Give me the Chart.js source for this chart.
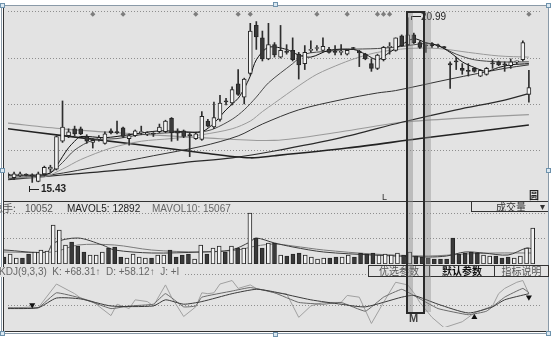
<!DOCTYPE html>
<html lang="zh-CN"><head><meta charset="utf-8"><title>K线图</title>
<script src="https://cdn.jsdelivr.net/npm/chart.js@4.4.1/dist/chart.umd.min.js"></script>
<style>
html,body{margin:0;padding:0;width:552px;height:337px;overflow:hidden;background:#fff;font-family:"Liberation Sans",Arial,sans-serif;}
.a{position:absolute;}
.t{position:absolute;white-space:nowrap;line-height:10px;font-size:10px;color:#333;}
.cjk{font-family:"Noto Sans CJK SC",sans-serif;}
canvas{position:absolute;}
.btn{position:absolute;top:265px;height:12px;box-sizing:border-box;border:1px solid #333;background:#e3e3e3;font-family:"Noto Sans CJK SC",sans-serif;font-size:10px;line-height:10px;text-align:center;color:#555;}
.h{position:absolute;width:5px;height:5px;box-sizing:border-box;border:1px solid #6f93ad;background:#dbe8f1;}
</style></head><body>
<div class="a" style="left:3px;top:6px;width:545px;height:325px;background:#e3e3e3;"></div>
<canvas id="price" width="541" height="193" style="left:4px;top:7px"></canvas>
<canvas id="vol" width="541" height="52" style="left:4px;top:212px"></canvas>
<canvas id="kdj" width="541" height="65" style="left:4px;top:266px"></canvas>

<!-- frame lines -->
<div class="a" style="left:3px;top:6px;width:1px;height:325px;background:#333;"></div>
<div class="a" style="left:1px;top:6px;width:1px;height:326px;background:#8a9aa8;"></div>
<div class="a" style="left:548px;top:6px;width:1px;height:326px;background:#8a9aa8;"></div>
<div class="a" style="left:1px;top:5px;width:548px;height:1px;background:#8a9aa8;"></div>
<div class="a" style="left:3px;top:201px;width:545px;height:1px;background:#333;"></div>
<div class="a" style="left:3px;top:331px;width:545px;height:1px;background:#333;"></div>
<div class="a" style="left:1px;top:333px;width:548px;height:1px;background:#8a9aa8;"></div>

<!-- price panel texts -->
<div class="t" style="left:382px;top:192px;font-size:9px;">L</div>
<div class="t cjk" style="left:529px;top:190px;font-weight:bold;color:#222;">圆</div>
<div class="a" style="left:411px;top:16px;width:10px;height:1px;background:#222;"></div>
<div class="a" style="left:411px;top:16px;width:1px;height:4px;background:#222;"></div>
<div class="t" style="left:421px;top:12px;color:#222;">20.99</div>
<div class="a" style="left:29px;top:186px;width:1px;height:6px;background:#222;"></div>
<div class="a" style="left:29px;top:189px;width:10px;height:1px;background:#222;"></div>
<div class="t" style="left:41px;top:184px;color:#222;font-weight:bold;">15.43</div>

<!-- volume title -->
<div class="t cjk" style="left:-7px;top:203px;color:#555;">总手:</div>
<div class="t" style="left:25px;top:204px;color:#555;">10052</div>
<div class="t" style="left:67px;top:204px;color:#222;">MAVOL5: 12892</div>
<div class="t" style="left:152px;top:204px;color:#666;">MAVOL10: 15067</div>
<div class="a" style="left:471px;top:201px;width:77px;height:11px;border-left:1px solid #333;border-bottom:1px solid #333;box-sizing:border-box;"></div>
<div class="t cjk" style="left:496px;top:202px;color:#333;">成交量</div>
<div class="t" style="left:540px;top:202px;color:#333;">▾</div>

<!-- KDJ title -->
<div class="t" style="left:-1px;top:267px;color:#666;background:#e3e3e3;padding-right:4px;">KDJ(9,3,3) &nbsp;K: +68.31↑ &nbsp;D: +58.12↑ &nbsp;J: +I</div>
<div class="btn" style="left:368px;width:62px;">优选参数</div>
<div class="btn" style="left:429px;width:66px;color:#111;font-weight:bold;">默认参数</div>
<div class="btn" style="left:494px;width:55px;">指标说明</div>

<!-- highlight column -->
<div class="a" style="left:407px;top:12px;width:6px;height:300px;background:rgba(140,140,140,0.45);"></div>
<div class="a" style="left:425px;top:12px;width:6px;height:300px;background:rgba(140,140,140,0.4);"></div>
<div class="a" style="left:406px;top:11px;width:19px;height:303px;box-sizing:border-box;border:2px solid #2a2a2a;"></div>
<div class="t" style="left:409px;top:313px;font-size:11px;line-height:11px;font-weight:bold;color:#444;">M</div>

<!-- selection handles -->
<div class="h" style="left:0px;top:3px;"></div>
<div class="h" style="left:273px;top:2px;"></div>
<div class="h" style="left:546px;top:3px;"></div>
<div class="h" style="left:0px;top:168px;"></div>
<div class="h" style="left:546px;top:168px;"></div>
<div class="h" style="left:0px;top:331px;"></div>
<div class="h" style="left:273px;top:332px;"></div>
<div class="h" style="left:546px;top:331px;"></div>

<script>
// ---- data ----
const open  = [15.69,15.59,15.65,15.69,15.68,15.46,15.72,15.88,15.88,16.82, 17.01,17.24,17.24,16.98,16.78,16.90,16.75,17.17,17.14,17.27, 16.91,17.01,17.11,17.07,17.07,17.14,17.14,17.59,17.17,17.17, 17.04,16.91,16.88,17.50,17.30,17.56,18.18,18.11,18.76,18.31, 19.11,20.73,20.31,19.60,20.08,19.66,19.83,19.89,19.76,19.44, 19.89,19.95,19.89,19.92,19.83,19.82,19.76,19.96,19.86,19.76, 19.44,19.28,19.57,19.99,19.89,20.38,20.08,20.41,20.15,20.05, 20.12,20.05,19.99,19.44,19.51,19.28,19.19,19.28,19.02,19.08, 19.44,19.50,19.41,19.37,19.50,19.57,18.40];
const high  = [15.75,15.78,15.78,15.72,15.72,15.78,15.98,16.01,17.00,18.18, 17.24,17.33,17.30,17.04,16.91,17.01,17.14,17.24,17.50,17.30, 17.07,17.20,17.33,17.14,17.11,17.40,17.53,17.62,17.24,17.20, 17.10,17.10,17.82,17.56,18.14,18.37,18.27,18.66,19.24,18.95, 20.80,20.86,20.54,20.80,20.15,20.73,20.08,20.31,19.82,20.05, 20.21,20.05,20.31,19.99,20.05,20.08,19.92,19.99,19.89,19.79, 19.60,19.76,20.02,20.15,20.31,20.41,20.99,20.47,20.21,20.08, 20.15,20.10,20.02,19.50,19.66,19.44,19.44,19.31,19.24,19.31, 19.57,19.53,19.50,19.60,19.53,20.21,19.21];
const low   = [15.59,15.52,15.62,15.65,15.43,15.45,15.65,15.78,15.85,16.78, 16.94,17.01,17.04,16.75,16.59,16.82,16.72,17.07,17.07,16.94, 16.69,16.98,17.04,17.01,16.98,17.11,17.11,16.82,16.85,16.94, 16.30,16.88,16.85,17.30,17.24,17.50,18.05,18.05,18.37,18.08, 19.05,19.92,19.53,19.57,19.66,19.63,19.76,19.53,18.92,19.24, 19.82,19.89,19.86,19.79,19.73,19.73,19.73,19.92,19.34,19.57, 19.18,19.24,19.53,19.76,19.86,20.02,20.05,20.12,19.95,19.82, 19.99,19.99,19.95,18.60,19.24,19.08,19.02,19.15,19.00,19.05, 19.28,19.37,19.18,19.28,19.44,19.53,18.14];
const close = [15.68,15.72,15.72,15.68,15.65,15.72,15.94,15.95,16.98,17.30, 17.14,17.07,17.07,16.82,16.85,16.91,17.07,17.10,17.11,16.98, 17.01,17.17,17.12,17.08,17.06,17.30,17.50,17.11,17.09,16.98, 17.01,17.07,17.66,17.33,17.62,18.11,18.15,18.56,18.40,18.92, 20.54,20.34,19.60,20.08,19.73,19.89,19.82,19.57,19.40,19.82, 19.90,19.96,20.02,19.82,19.82,19.83,19.89,19.95,19.80,19.60, 19.28,19.73,19.99,20.00,20.31,20.05,20.41,20.15,19.99,20.04, 20.05,20.04,19.98,19.40,19.50,19.21,19.18,19.18,19.21,19.28, 19.43,19.40,19.40,19.50,19.51,20.15,18.63];
const volume = [7000,10000,6000,6000,10000,12000,14000,13000,39000,34000, 19000,22000,18000,12000,9000,9000,12000,16000,17000,7000, 6000,10000,7000,6000,6000,9000,9000,14000,7000,9000, 10000,5000,19000,10000,16000,18000,12000,18000,16000,16000, 51000,26000,16000,21000,21000,9000,8000,10000,11000,9000, 7000,5000,6000,6000,7000,7000,9000,7000,11000,10000, 11000,9000,10000,9000,11000,9000,12000,8000,7000,6000, 5000,5000,5000,26000,10000,11000,12000,11000,9000,8000, 8000,6000,7000,6000,8000,16000,36000];

// moving averages read as [day index, value]
const ma5   = [[0,15.68],[5,15.68],[7,15.75],[8,15.98],[9,16.30],[10,16.60],[11,16.82],[12,16.98],[16,16.94],[20,17.04],[25,17.17],[29,17.14],[32,17.14],[34,17.43],[36,17.88],[38,18.27],[39,18.60],[40,19.02],[41,19.57],[43,19.99],[46,19.92],[48,19.73],[50,19.66],[53,19.89],[57,19.92],[59,19.76],[61,19.57],[63,19.82],[65,20.08],[67,20.28],[69,20.15],[71,20.05],[73,19.82],[75,19.50],[77,19.31],[79,19.18],[81,19.31],[83,19.40],[86,19.44]];
const ma10  = [[0,15.65],[5,15.65],[7,15.75],[9,16.10],[11,16.52],[14,16.85],[18,16.91],[22,17.04],[27,17.11],[32,17.14],[34,17.24],[37,17.56],[39,17.88],[41,18.31],[43,18.79],[47,19.44],[49,19.76],[53,19.86],[56,19.92],[61,19.95],[65,20.02],[69,20.12],[71,20.05],[74,19.76],[77,19.57],[81,19.50],[86,19.50]];
const ma20  = [[0,15.59],[6,15.62],[9,15.88],[12,16.20],[17,16.59],[22,16.82],[27,16.91],[32,17.04],[37,17.24],[40,17.50],[42,17.82],[44,18.11],[48,18.69],[51,19.08],[55,19.44],[58,19.66],[61,19.82],[66,19.95],[71,19.95],[76,19.82],[81,19.70],[86,19.66]];
const ma30  = [[0,15.55],[7,15.68],[16,16.01],[24,16.33],[32,16.65],[38,17.00],[42,17.40],[48,17.88],[55,18.22],[61,18.45],[64,18.53],[73,18.92],[82,19.28],[86,19.40]];
const ma60  = [[0,15.52],[9,15.68],[20,15.88],[29,16.10],[37,16.26],[44,16.49],[55,16.94],[65,17.46],[74,17.88],[82,18.21],[86,18.43]];
const ma120 = [[0,17.43],[9,17.24],[21,17.07],[32,16.94],[44,16.85],[55,17.14],[65,17.46],[74,17.59],[86,17.72]];
const ma250 = [[0,17.24],[9,17.01],[21,16.72],[32,16.43],[40,16.26],[44,16.33],[56,16.59],[68,16.91],[86,17.37]];
const eventDays = [14,19,31,38,40,51,56,61,62,63,86];

const mavol5  = [[0,14000],[7,12000],[8,21000],[12,26000],[16,19000],[18,14000],[24,11000],[32,12000],[37,14000],[40,22000],[41,26000],[44,21000],[47,17000],[52,12000],[60,9000],[69,7000],[72,8000],[75,12000],[78,11000],[82,9000],[85,16000],[86,15000]];
const mavol10 = [[0,12000],[8,12000],[12,19000],[18,19000],[24,14000],[32,12000],[38,14000],[41,18000],[44,20000],[47,18000],[52,14000],[60,10000],[69,8000],[75,10000],[80,11000],[86,11000]];

const kdjK = [[0,45],[5,45],[8,87.5],[12,72.5],[17,42.5],[20,50],[24,55],[26,85],[29,47.5],[31,50],[32,75],[37,92.5],[40,102.5],[44,87.5],[48,60],[52,55],[55,60],[59,35],[62,75],[65,97.5],[67,80],[71,42.5],[76,25],[79,35],[82,75],[85,100],[86,87.5]];
const kdjD = [[0,42.5],[5,45],[8,72.5],[12,70],[17,50],[24,50],[26,67.5],[29,55],[32,62.5],[37,85],[41,97.5],[44,90],[50,67.5],[55,55],[59,47.5],[65,75],[67,80],[71,55],[76,30],[80,47.5],[82,67.5],[86,85]];
const kdjJ = [[0,42.5],[4,47.5],[5,45],[8,112.5],[11,85],[12,72.5],[14,62.5],[17,22.5],[18,55],[20,42.5],[21,67.5],[23,62.5],[24,50],[26,110],[27,75],[29,20],[31,47.5],[32,87.5],[33,85],[34,87.5],[35,112.5],[37,122.5],[38,100],[40,110],[41,100],[43,92.5],[44,87.5],[46,85],[48,17.5],[50,50],[52,60],[55,60],[56,80],[58,75],[60,0],[62,60],[64,117.5],[66,110],[67,87.5],[68,60],[70,17.5],[72,-12],[75,5],[77,30],[80,50],[81,85],[82,100],[84,117.5],[85,122.5],[86,85]];
const arrowDown = [[4,52.5],[86,75]];
const arrowUp = [[77,17.5]];

const priceGrid = [16.52, 18.05, 19.60, 21.19];
const volGrid = [26000, 51000];
const kdjGrid = [50, 140];

// ---- charts ----
Chart.defaults.font.family = '"Liberation Sans", Arial, sans-serif';
const N = open.length;
const idx = [...Array(N).keys()];
const isUp = i => close[i] >= open[i];
const pts = arr => arr.map(([x, y]) => ({x, y}));

function xScale(){ return {type:'linear', min:0, max:88, offset:false, display:false}; }
function yScale(min, max, grid){
  return {type:'linear', min, max, beginAtZero:false, position:'left',
    afterBuildTicks: s => { s.ticks = grid.map(v => ({value:v})); },
    afterFit: s => { s.width = 0; },
    ticks:{display:false},
    border:{display:false, dash:[1,2]},
    grid:{color:'#8e8e8e', lineWidth:1, drawTicks:false}};
}
const base = {responsive:false, animation:false, events:[], layout:{padding:0},
  plugins:{legend:{display:false}, tooltip:{enabled:false}}};
function line(data, color, width){
  return {type:'line', data: pts(data), borderColor: color, borderWidth: width || 1,
    pointRadius:0, tension:0.3, fill:false};
}

new Chart(document.getElementById('price'), {
  type:'bar',
  data:{datasets:[
    {type:'bar', data: idx.map(i => ({x:i, y:[open[i], close[i]]})),
     backgroundColor: idx.map(i => isUp(i) ? '#f4f4f4' : '#3a3a3a'),
     borderColor:'#262626', borderWidth:1, borderSkipped:false, barThickness:4, minBarLength:1, grouped:false},
    {type:'bar', data: idx.map(i => ({x:i, y:[low[i], high[i]]})),
     backgroundColor:'#2e2e2e', borderWidth:0, barThickness:1, grouped:false},
    {type:'line', data: eventDays.map(d => ({x:d, y:21.11})), showLine:false,
     pointStyle:'rectRot', pointRadius:2.6, pointBackgroundColor:'#7d7d7d', pointBorderWidth:0},
    line(ma5, '#111111', 1),
    line(ma10, '#4a4a4a', 1),
    line(ma20, '#9a9a9a', 1),
    line(ma30, '#333333', 1),
    line(ma60, '#2a2a2a', 1.2),
    line(ma120, '#9a9a9a', 1.2),
    line(ma250, '#222222', 1.6)
  ]},
  options:{...base, scales:{x:xScale(), y:yScale(14.971, 21.217, priceGrid)}}
});

new Chart(document.getElementById('vol'), {
  type:'bar',
  data:{datasets:[
    {type:'bar', data: idx.map(i => ({x:i, y:volume[i]})),
     backgroundColor: idx.map(i => isUp(i) ? '#f4f4f4' : '#3a3a3a'),
     borderColor:'#262626', borderWidth:1, borderSkipped:false, barThickness:4, grouped:false},
    line(mavol5, '#3c3c3c', 1),
    line(mavol10, '#7a7a7a', 1)
  ]},
  options:{...base, scales:{x:xScale(), y:yScale(0, 52000, volGrid)}}
});

new Chart(document.getElementById('kdj'), {
  type:'line',
  data:{datasets:[
    {type:'line', data: pts(arrowDown), showLine:false, pointStyle:'triangle', rotation:180,
     pointRadius:3.5, pointBackgroundColor:'#111', pointBorderWidth:0},
    {type:'line', data: pts(arrowUp), showLine:false, pointStyle:'triangle', rotation:0,
     pointRadius:3.5, pointBackgroundColor:'#111', pointBorderWidth:0},
    {...line(kdjD, '#3a3a3a', 1), tension:0.2},
    {...line(kdjK, '#6a6a6a', 1), tension:0.1},
    {...line(kdjJ, '#a0a0a0', 1), tension:0}
  ]},
  options:{...base, scales:{x:xScale(), y:yScale(-10, 152.5, kdjGrid)}}
});
</script>
</body></html>
